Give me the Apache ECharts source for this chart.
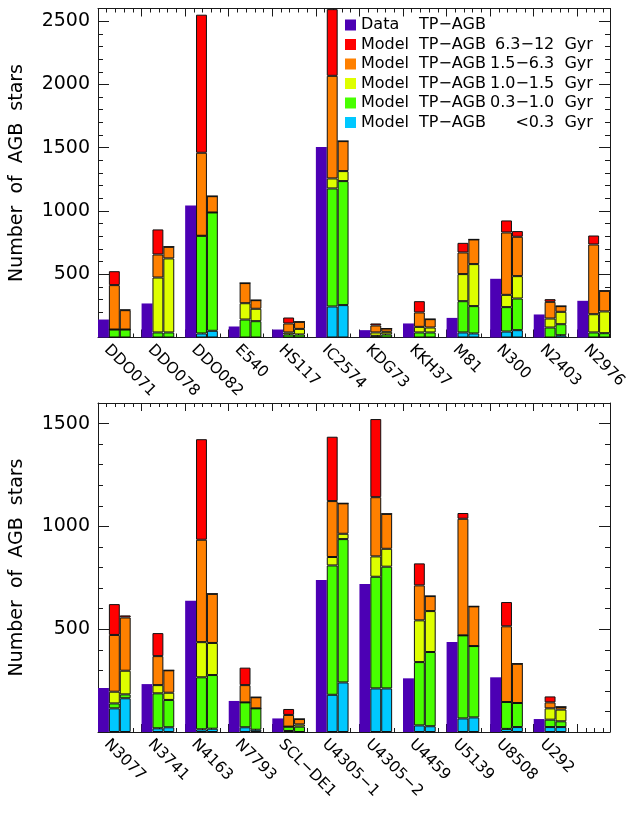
<!DOCTYPE html>
<html>
<head>
<meta charset="utf-8">
<script src="https://cdn.jsdelivr.net/npm/echarts@6/dist/echarts.min.js"></script>
<style>
  html, body { margin: 0; padding: 0; background: #fff; }
  #main { width: 626px; height: 815px; }
</style>
</head>
<body>
<div id="main"></div>
<script>
// galaxies, top panel
var names1 = ['DDO071', 'DDO078', 'DDO082', 'E540', 'HS117', 'IC2574', 'KDG73', 'KKH37', 'M81', 'N300', 'N2403', 'N2976'];
var data1 = [142, 269, 1043, 87, 63, 1505, 58, 111, 155, 464, 182, 290];
// model A (left stacked bar), per age bin
var cyanA1   = [0, 0, 32, 0, 0, 245, 0, 0, 40, 47, 0, 0];
var greenA1  = [63, 40, 772, 142, 24, 933, 13, 40, 247, 193, 79, 40];
var yellowA1 = [0, 434, 0, 129, 16, 79, 27, 44, 214, 97, 71, 144];
var orangeA1 = [351, 182, 656, 159, 71, 811, 55, 114, 171, 493, 132, 551];
var redA1    = [110, 198, 1091, 0, 47, 527, 16, 89, 76, 95, 21, 71];
// model B (right stacked bar)
var cyanB1   = [0, 0, 53, 0, 0, 256, 0, 0, 32, 58, 18, 0];
var greenB1  = [63, 40, 935, 129, 24, 980, 24, 40, 216, 250, 87, 34];
var yellowB1 = [0, 585, 0, 98, 44, 79, 21, 39, 332, 177, 98, 172];
var orangeB1 = [153, 92, 129, 68, 56, 237, 26, 66, 195, 311, 45, 163];
var redB1    = [4, 0, 0, 0, 0, 0, 0, 0, 0, 45, 0, 0];

// galaxies, bottom panel
var names2 = ['N3077', 'N3741', 'N4163', 'N7793', 'SCL\u2212DE1', 'U4305\u22121', 'U4305\u22122', 'U4459', 'U5139', 'U8508', 'U292'];
var data2 = [214, 233, 638, 151, 66, 739, 720, 261, 438, 266, 63];
var cyanA2   = [115, 18, 13, 23, 5, 181, 212, 32, 66, 15, 24];
var greenA2  = [24, 170, 253, 121, 21, 629, 543, 308, 404, 131, 36];
var yellowA2 = [57, 40, 171, 0, 0, 41, 99, 203, 0, 0, 55];
var orangeA2 = [276, 141, 498, 84, 57, 272, 288, 170, 567, 368, 29];
var redA2    = [150, 112, 489, 85, 29, 313, 380, 107, 28, 118, 29];
var cyanB2   = [164, 23, 16, 11, 0, 241, 212, 28, 71, 24, 24];
var greenB2  = [19, 133, 261, 104, 26, 697, 592, 361, 347, 117, 28];
var yellowB2 = [115, 35, 156, 0, 11, 26, 87, 199, 0, 0, 57];
var orangeB2 = [259, 109, 239, 54, 26, 148, 170, 73, 193, 191, 13];
var redB2    = [10, 0, 0, 0, 0, 0, 0, 0, 0, 0, 0];

var seriesNames = ['Data TP-AGB', 'Model TP-AGB <0.3 Gyr', 'Model TP-AGB 0.3-1.0 Gyr',
  'Model TP-AGB 1.0-1.5 Gyr', 'Model TP-AGB 1.5-6.3 Gyr', 'Model TP-AGB 6.3-12 Gyr'];
var colors = ['#4c00b4', '#00c8ff', '#48ff00', '#deff00', '#ff8000', '#ff0000'];
var legendOrder = [0, 5, 4, 3, 2, 1];
var legendLead = ['Data', 'Model', 'Model', 'Model', 'Model', 'Model'];
var legendRange = ['', '<0.3  Gyr', '0.3\u22121.0  Gyr', '1.0\u22121.5  Gyr', '1.5\u22126.3  Gyr', '6.3\u221212  Gyr'];

var FONT = 'DejaVu Sans';
var SLOTS = 47;     // 4 slots per galaxy, axis ends after 3rd slot of the 12th group
var XMAX = 11.75;
var INK = '#1a1a1a';

var myChart = echarts.init(document.getElementById('main'));

var xAxis = [], yAxis = [], series = [];

function slotArr(vals, off) {
  var a = [];
  for (var i = 0; i < SLOTS; i++) a.push('-');
  for (var k = 0; k < vals.length; k++) a[4 * k + off] = vals[k];
  return a;
}

function addPanel(gi, names, dataV, compsA, compsB, ymax) {
  var cats = [];
  for (var i = 0; i < SLOTS; i++) cats.push('s' + i);
  var xBase = xAxis.length, yBase = yAxis.length;
  var tickLine = { color: INK, width: 1 };
  // bar axis
  xAxis.push({ type: 'category', gridIndex: gi, data: cats, position: 'bottom', boundaryGap: true,
    axisLine: { show: false }, axisTick: { show: false }, axisLabel: { show: false }, splitLine: { show: false } });
  ['bottom', 'top'].forEach(function (pos) {
    xAxis.push({ type: 'value', gridIndex: gi, position: pos, min: 0, max: XMAX, interval: 1,
      axisLine: { show: true, onZero: false, lineStyle: tickLine },
      axisTick: { inside: true, length: 8, lineStyle: tickLine },
      axisLabel: { show: false }, splitLine: { show: false } });
    xAxis.push({ type: 'value', gridIndex: gi, position: pos, min: 0, max: XMAX, interval: 0.2,
      axisLine: { show: false, onZero: false },
      axisTick: { inside: true, length: 4, lineStyle: tickLine },
      axisLabel: { show: false }, splitLine: { show: false } });
  });
  // galaxy names, placed a little after each group start
  xAxis.push({ type: 'value', gridIndex: gi, position: 'bottom', min: 0, max: XMAX, interval: 0.2,
    axisLine: { show: false, onZero: false }, axisTick: { show: false }, splitLine: { show: false },
    axisLabel: { show: true, rotate: -45, margin: 10, fontSize: 15.5, fontFamily: FONT, color: '#000',
      formatter: function (v) {
        var k = v - 0.2;
        if (Math.abs(k - Math.round(k)) < 1e-6) return names[Math.round(k)] || '';
        return '';
      } } });

  ['left', 'right'].forEach(function (pos) {
    var major = { type: 'value', gridIndex: gi, position: pos, min: 0, max: ymax, interval: 500,
      axisLine: { show: true, onZero: false, lineStyle: tickLine },
      axisTick: { inside: true, length: 11, lineStyle: tickLine },
      axisLabel: { show: false }, splitLine: { show: false } };
    if (pos === 'left') {
      major.axisLabel = { show: true, fontSize: 19, fontFamily: FONT, color: '#000', margin: 8,
        formatter: function (v) { return (v > 0 && v % 500 === 0) ? String(v) : ''; } };
      major.name = 'Number  of  AGB  stars';
      major.nameLocation = 'middle';
      major.nameGap = 71;
      major.nameTextStyle = { fontSize: 19, fontFamily: FONT, color: '#000' };
    }
    yAxis.push(major);
    yAxis.push({ type: 'value', gridIndex: gi, position: pos, min: 0, max: ymax, interval: 100,
      axisLine: { show: false, onZero: false },
      axisTick: { inside: true, length: 5, lineStyle: tickLine },
      axisLabel: { show: false }, splitLine: { show: false } });
  });

  for (var s = 0; s < 6; s++) {
    var vals;
    if (s === 0) {
      vals = slotArr(dataV, 0);
    } else {
      vals = slotArr(compsA[s - 1], 1);
      var b = slotArr(compsB[s - 1], 2);
      for (var j = 0; j < SLOTS; j++) if (b[j] !== '-') vals[j] = b[j];
    }
    series.push({
      name: seriesNames[s], type: 'bar', xAxisIndex: xBase, yAxisIndex: yBase,
      stack: 'p' + gi, data: vals, barCategoryGap: '0%', barGap: '0%',
      itemStyle: { color: colors[s], borderColor: s === 0 ? colors[s] : '#111', borderWidth: s === 0 ? 0 : 1 },
      emphasis: { disabled: true }
    });
  }
}

addPanel(0, names1, data1,
  [cyanA1, greenA1, yellowA1, orangeA1, redA1],
  [cyanB1, greenB1, yellowB1, orangeB1, redB1], 2600);
addPanel(1, names2, data2,
  [cyanA2, greenA2, yellowA2, orangeA2, redA2],
  [cyanB2, greenB2, yellowB2, orangeB2, redB2], 1600);

var richBase = { fontSize: 16, fontFamily: FONT, color: '#000', lineHeight: 16 };
var option = {
  animation: false,
  backgroundColor: '#fff',
  grid: [
    { left: 98, right: 16, top: 8.5, height: 329, containLabel: false, outerBoundsMode: 'none' },
    { left: 98, right: 16, top: 403, height: 329, containLabel: false, outerBoundsMode: 'none' }
  ],
  legend: {
    data: legendOrder.map(function (i) { return seriesNames[i]; }),
    orient: 'vertical', left: 340, top: 12,
    itemWidth: 11, itemHeight: 11, itemGap: 3.5, icon: 'rect',
    itemStyle: { borderWidth: 0 }, selectedMode: false,
    textStyle: {
      fontSize: 16, fontFamily: FONT, color: '#000', lineHeight: 16,
      rich: {
        a: Object.assign({ width: 58 }, richBase),
        b: Object.assign({}, richBase),
        c: Object.assign({ width: 107, align: 'right' }, richBase)
      }
    },
    formatter: function (name) {
      var i = seriesNames.indexOf(name);
      return '{a|' + legendLead[i] + '}{b|TP\u2212AGB}{c|' + legendRange[i] + '}';
    }
  },
  xAxis: xAxis,
  yAxis: yAxis,
  series: series
};
myChart.setOption(option);
</script>
</body>
</html>
